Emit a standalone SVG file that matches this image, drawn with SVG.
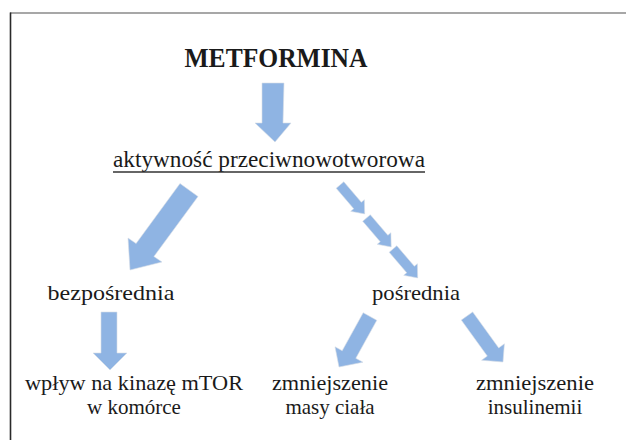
<svg xmlns="http://www.w3.org/2000/svg" width="626" height="440" viewBox="0 0 626 440">
<style>
text{font-family:"Liberation Serif","DejaVu Serif","Times New Roman",serif}
.t{font-size:21px;fill:#1a1a1a;text-anchor:middle}
.title{font-size:27px;font-weight:bold;fill:#1a1a1a;text-anchor:middle}
.arr{fill:#8fb4e3;stroke:#d6dde6;stroke-width:0.6}
</style>
<rect width="626" height="440" fill="#ffffff"/>
<g id="frame">
<line x1="10" y1="13" x2="626" y2="13" stroke="#8a8a8a" stroke-width="1.6"/>
<line x1="10.5" y1="12.5" x2="10.5" y2="440" stroke="#2a2a2a" stroke-width="1.6"/>
</g>
<g id="metformina"><text class="title" x="276" y="67" textLength="183" lengthAdjust="spacingAndGlyphs">METFORMINA</text></g>
<g id="aktywnosc">
<text class="t" x="269" y="167" style="font-size:23px" textLength="312" lengthAdjust="spacingAndGlyphs">aktywność przeciwnowotworowa</text>
<line x1="113" y1="172" x2="425" y2="172" stroke="#333" stroke-width="1.5"/>
</g>
<g id="bezposrednia"><text class="t" x="111" y="300" style="font-size:22px" textLength="127" lengthAdjust="spacingAndGlyphs">bezpośrednia</text></g>
<g id="posrednia"><text class="t" x="416" y="300" style="font-size:22px" textLength="88" lengthAdjust="spacingAndGlyphs">pośrednia</text></g>
<g id="mtor">
<text class="t" x="134" y="390" textLength="218" lengthAdjust="spacingAndGlyphs">wpływ na kinazę mTOR</text>
<text class="t" x="134" y="414">w komórce</text>
</g>
<g id="masa">
<text class="t" x="330" y="390" textLength="116" lengthAdjust="spacingAndGlyphs">zmniejszenie</text>
<text class="t" x="330" y="414">masy ciała</text>
</g>
<g id="insulinemia">
<text class="t" x="535" y="390" textLength="118" lengthAdjust="spacingAndGlyphs">zmniejszenie</text>
<text class="t" x="535" y="414">insulinemii</text>
</g>
<g id="connectors">
<polygon class="arr" points="262,83 284,83 283,123 291,123 275,142 255,123 262,123"/>
<polygon class="arr" points="180,183.5 198,196.5 153.9,256.5 162,262 130,270 128,238 136.1,243.5"/>
<polygon class="arr" points="343.8,181.75 361.35,202.27 364.39,199.67 364.7,213.9 350.71,211.37 353.75,208.77 336.2,188.25"/>
<polygon class="arr" points="370.3,214.75 387.85,235.27 390.89,232.67 391.2,246.9 377.21,244.37 380.25,241.77 362.7,221.25"/>
<polygon class="arr" points="396.8,245.75 414.35,266.27 417.39,263.67 417.7,277.9 403.71,275.37 406.75,272.77 389.2,252.25"/>
<polygon class="arr" points="101,312 117,312 117,353 127,353 110,370 93,353 101,353"/>
<polygon class="arr" points="363.2,312.7 376.8,320.3 355.8,358.3 363,362.2 339,367 335,346.8 342.2,350.7"/>
<polygon class="arr" points="472.7,311.9 498.7,347.9 504.4,343.8 503,362 481.6,360.2 487.3,356.1 461.3,320.1"/>
</g>
</svg>
